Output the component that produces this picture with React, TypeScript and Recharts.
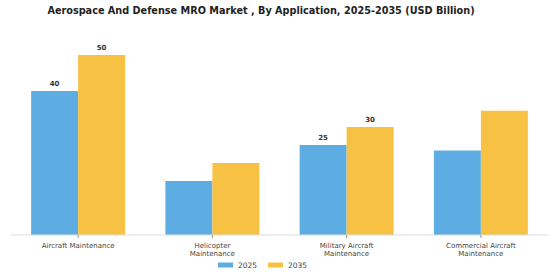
import React from "react";
import { BarChart, Bar, XAxis, YAxis, Legend, LabelList } from "recharts";

// Application segments and market size (USD Billion)
const categories = [
  "Aircraft Maintenance",
  "Helicopter\nMaintenance",
  "Military Aircraft\nMaintenance",
  "Commercial Aircraft\nMaintenance",
];
const values2025 = [40, 15, 25, 23.5];
const values2035 = [50, 20, 30, 34.5];
// Value labels shown above selected bars
const labels2025 = ["40", null, "25", null];
const labels2035 = ["50", null, "30", null];

const seriesNames = ["2025", "2035"];
const seriesColors = ["#5DADE2", "#F7C144"];

const data = categories.map((name, i) => ({
  name,
  v2025: values2025[i],
  v2035: values2035[i],
  l2025: labels2025[i],
  l2035: labels2035[i],
}));

const FONT = "'DejaVu Sans', sans-serif";

const CategoryTick = (props: any) => {
  const { x, y, payload } = props;
  const lines = String(payload.value).split("\n");
  return (
    <g transform={`translate(${x},${y})`}>
      {lines.map((line: string, i: number) => (
        <text
          key={i}
          x={0}
          y={7.5 + i * 8}
          textAnchor="middle"
          fontFamily={FONT}
          fontSize={7}
          fill="#444"
        >
          {line}
        </text>
      ))}
    </g>
  );
};

const LegendContent = () => (
  <svg width={560} height={20} style={{ display: "block" }}>
    {seriesNames.map((n, i) => {
      const x0 = 218 + i * 50;
      return (
        <g key={n}>
          <rect x={x0} y={2.5} width={15} height={5} fill={seriesColors[i]} />
          <text
            x={x0 + 20}
            y={8}
            fontFamily={FONT}
            fontSize={7.5}
            fill="#444"
          >
            {n}
          </text>
        </g>
      );
    })}
  </svg>
);

export default function App() {
  return (
    <div
      style={{
        position: "absolute",
        left: 0,
        top: 0,
        width: 560,
        height: 280,
        background: "#fff",
      }}
    >
      <div
        style={{
          position: "absolute",
          left: 0,
          top: 5,
          width: 522,
          textAlign: "center",
          fontFamily: FONT,
          fontWeight: "bold",
          fontSize: 9.7,
          color: "#222",
          whiteSpace: "nowrap",
        }}
      >
        Aerospace And Defense MRO Market , By Application, 2025-2035 (USD Billion)
      </div>
      <BarChart
        width={560}
        height={280}
        data={data}
        margin={{ top: 55, right: 12, left: 11, bottom: 0 }}
        barCategoryGap="15%"
        barGap={0}
      >
        <XAxis
          dataKey="name"
          interval={0}
          height={25}
          axisLine={{ stroke: "#ddd" }}
          tickLine={{ stroke: "#999" }}
          tickSize={3}
          tick={<CategoryTick />}
        />
        <YAxis hide domain={[0, 50]} allowDataOverflow={false} />
        <Legend
          verticalAlign="bottom"
          height={20}
          content={<LegendContent />}
          wrapperStyle={{ left: 0, width: 560 }}
        />
        <Bar
          dataKey="v2025"
          name={seriesNames[0]}
          fill={seriesColors[0]}
          isAnimationActive={false}
        >
          <LabelList
            dataKey="l2025"
            position="top"
            offset={5}
            fontFamily={FONT}
            fontSize={7}
            fontWeight="bold"
            fill="#333"
          />
        </Bar>
        <Bar
          dataKey="v2035"
          name={seriesNames[1]}
          fill={seriesColors[1]}
          isAnimationActive={false}
        >
          <LabelList
            dataKey="l2035"
            position="top"
            offset={5}
            fontFamily={FONT}
            fontSize={7}
            fontWeight="bold"
            fill="#333"
          />
        </Bar>
      </BarChart>
    </div>
  );
}
